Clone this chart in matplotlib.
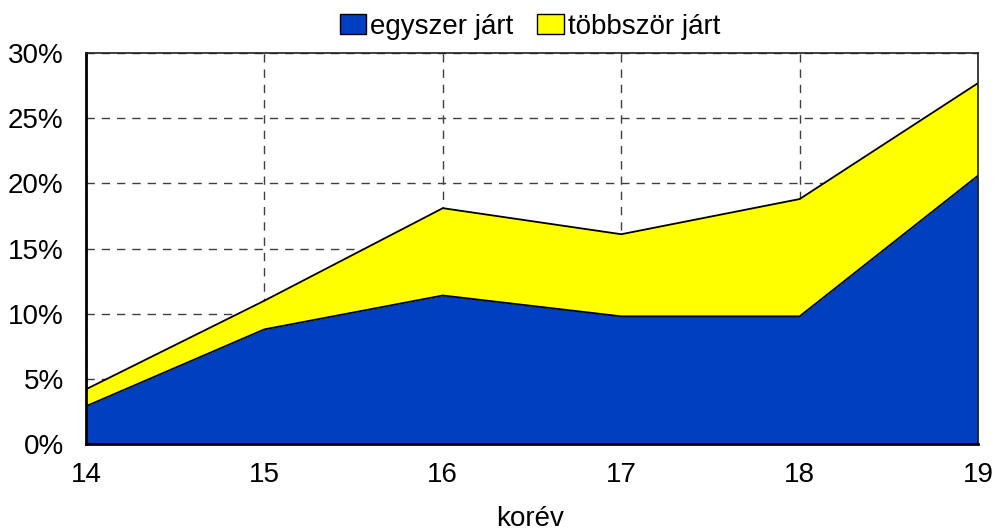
import numpy as np
import matplotlib
matplotlib.use("Agg")
import matplotlib.pyplot as plt
from matplotlib.patches import Patch
from matplotlib.ticker import FuncFormatter

plt.rcParams['font.family'] = ['Liberation Sans', 'DejaVu Sans']

# data (percent)
years = [14, 15, 16, 17, 18, 19]
egyszer = [2.9, 8.8, 11.4, 9.8, 9.8, 20.6]
tobbszor = [1.3, 2.2, 6.7, 6.3, 9.0, 7.1]
series_names = ["egyszer járt", "többször járt"]
colors = ["#0040C0", "#FFFF00"]

FS = 20

fig = plt.figure(figsize=(9.96, 5.31), dpi=100)
ax = fig.add_axes([0.0863, 0.1638, 0.8957, 0.7362])

x = np.array(years)
low = np.array(egyszer)
top = low + np.array(tobbszor)

ax.fill_between(x, 0, low, color=colors[0], lw=0, zorder=2)
ax.fill_between(x, low, top, color=colors[1], lw=0, zorder=2)
ax.plot(x, low, color="black", lw=1.3, zorder=3)
ax.plot(x, top, color="black", lw=1.3, zorder=3)

ax.set_xlim(14, 19)
ax.set_ylim(0, 30)
ax.set_xticks(years)
ax.set_yticks(np.arange(0, 31, 5))
ax.yaxis.set_major_formatter(FuncFormatter(lambda v, p: f"{v:.0f}%"))
ax.tick_params(length=0, labelsize=FS)
ax.tick_params(axis='x', pad=13)
ax.tick_params(axis='y', pad=16)

ax.grid(True, color="#404040", ls=(0, (6, 5)), lw=1.0, zorder=1)
ax.set_axisbelow(True)

for side in ["left", "bottom"]:
    ax.spines[side].set_linewidth(2.0)
    ax.spines[side].set_color("black")
    ax.spines[side].set_zorder(4)
for side in ["top", "right"]:
    ax.spines[side].set_linewidth(1.2)
    ax.spines[side].set_color("#202020")
    ax.spines[side].set_zorder(4)

fig.text(0.532, 0.022, "korév", ha="center", va="center", fontsize=FS)

handles = [Patch(facecolor=c, edgecolor="black", lw=1.0) for c in colors]
fig.legend(handles, series_names, loc="center", bbox_to_anchor=(0.532, 0.95),
           ncol=2, frameon=False, fontsize=FS, handlelength=0.95,
           handleheight=0.7, handletextpad=0.15, columnspacing=0.85)

fig.savefig("out.png", dpi=100)
